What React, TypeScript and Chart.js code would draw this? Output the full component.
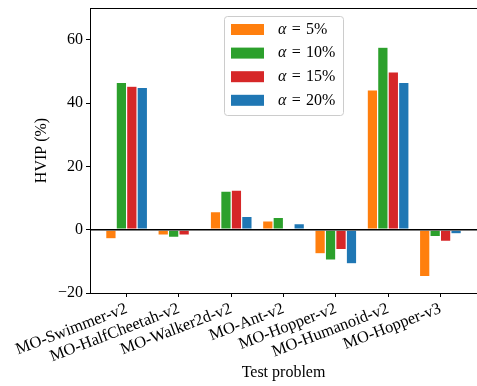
import { useEffect, useRef } from 'react';
import { Chart, registerables } from 'chart.js';

Chart.register(...registerables);

const categories = [
  'MO-Swimmer-v2',
  'MO-HalfCheetah-v2',
  'MO-Walker2d-v2',
  'MO-Ant-v2',
  'MO-Hopper-v2',
  'MO-Humanoid-v2',
  'MO-Hopper-v3',
];
const seriesLabels = ['α = 5%', 'α = 10%', 'α = 15%', 'α = 20%'];
const alpha5 = [-2.9, -1.7, 5.7, 2.8, -7.6, 44.1, -14.8];
const alpha10 = [46.5, -2.4, 12.2, 3.9, -9.6, 57.6, -2.2];
const alpha15 = [45.3, -1.7, 12.5, 0.5, -6.3, 49.8, -3.7];
const alpha20 = [44.9, -0.4, 4.2, 1.9, -10.8, 46.5, -1.3];
const seriesValues = [alpha5, alpha10, alpha15, alpha20];
const colors = ['#ff7f0e', '#2ca02c', '#d62728', '#1f77b4'];
const yTicks = [-20, 0, 20, 40, 60];
const yMin = -20;
const yMax = 70;
const xMin = -0.7;
const xMax = 6.7;

const FONT = 'Liberation Serif';

const framePlugin = {
  id: 'frameAndLegend',
  afterDatasetsDraw(chart: any) {
    const { ctx, chartArea: ca, scales } = chart;
    ctx.save();
    const y0 = scales.y.getPixelForValue(0);
    ctx.strokeStyle = '#000';
    ctx.lineWidth = 1.5;
    ctx.beginPath();
    ctx.moveTo(ca.left, y0);
    ctx.lineTo(ca.right, y0);
    ctx.stroke();
    ctx.lineWidth = 1;
    ctx.beginPath();
    ctx.moveTo(ca.left, ca.top + 0.5);
    ctx.lineTo(ca.right, ca.top + 0.5);
    ctx.stroke();
    ctx.restore();
  },
  afterDraw(chart: any) {
    const { ctx, chartArea: ca } = chart;
    const w = 119;
    const h = 99;
    const bx = (ca.left + ca.right) / 2 - w / 2;
    const by = ca.top + 8;
    ctx.save();
    ctx.beginPath();
    ctx.roundRect(bx + 0.5, by + 0.5, w, h, 3);
    ctx.fillStyle = 'rgba(255,255,255,0.8)';
    ctx.fill();
    ctx.strokeStyle = '#cccccc';
    ctx.lineWidth = 1;
    ctx.stroke();
    chart.data.datasets.forEach((ds: any, i: number) => {
      const cy = by + 13.5 + i * 23.6;
      ctx.fillStyle = ds.backgroundColor;
      ctx.fillRect(bx + 7, cy - 5.5, 33, 11);
      const label: string = ds.label;
      const first = label.slice(0, 1);
      const rest = label.slice(1);
      ctx.fillStyle = '#000';
      ctx.textBaseline = 'middle';
      ctx.textAlign = 'left';
      ctx.font = `italic 16px "${FONT}"`;
      let tx = bx + 54;
      ctx.fillText(first, tx, cy);
      tx += ctx.measureText(first).width;
      ctx.font = `16px "${FONT}"`;
      ctx.fillText(rest.replace(/ /g, '\u2004'), tx, cy);
    });
    ctx.restore();
  },
};

export default function App() {
  const ref = useRef<HTMLCanvasElement | null>(null);
  useEffect(() => {
    if (!ref.current) return;
    Chart.defaults.font.family = FONT;
    Chart.defaults.font.size = 16;
    Chart.defaults.color = '#000';
    const chart = new Chart(ref.current, {
      type: 'bar',
      data: {
        datasets: seriesValues.map((vals, i) => ({
          label: seriesLabels[i],
          data: vals.map((v, j) => ({ x: j, y: v })),
          backgroundColor: colors[i],
          borderColor: '#ffffff',
          borderWidth: 0.6,
          borderSkipped: false,
          categoryPercentage: 0.8,
          barPercentage: 1.0,
        })),
      },
      options: {
        animation: false,
        responsive: true,
        maintainAspectRatio: false,
        layout: { padding: { left: 32, top: 8, right: 0, bottom: 0 } },
        plugins: { legend: { display: false }, tooltip: { enabled: false } },
        scales: {
          x: {
            type: 'linear',
            min: xMin,
            max: xMax,
            offset: false,
            afterBuildTicks: (axis: any) => {
              axis.ticks = categories.map((_, i) => ({ value: i }));
            },
            afterFit: (axis: any) => {
              axis.height = 93;
              axis.paddingLeft = 0;
              axis.paddingRight = 0;
            },
            ticks: {
              autoSkip: false,
              minRotation: 21,
              maxRotation: 21,
              padding: 2,
              font: { size: 16.5 },
              callback: (v: any) => categories[Math.round(Number(v))] ?? '',
            },
            grid: {
              offset: false,
              drawOnChartArea: false,
              drawTicks: true,
              tickLength: 4,
              color: '#000',
            },
            border: { display: true, color: '#000', width: 1 },
            title: { display: true, text: 'Test problem', font: { size: 16 }, padding: { top: 0, bottom: 4 } },
          },
          y: {
            min: yMin,
            max: yMax,
            afterBuildTicks: (axis: any) => {
              axis.ticks = yTicks.map((v) => ({ value: v }));
            },
            afterFit: (axis: any) => {
              axis.width = 90 - 32;
              axis.paddingTop = 0;
              axis.paddingBottom = 0;
            },
            ticks: {
              padding: 3,
              font: { size: 16 },
              callback: (v: any) => (Number(v) < 0 ? '\u2212' + Math.abs(Number(v)) : String(v)),
            },
            grid: {
              drawOnChartArea: false,
              drawTicks: true,
              tickLength: 4,
              color: '#000',
            },
            border: { display: true, color: '#000', width: 1 },
            title: { display: true, text: 'HVIP (%)', font: { size: 16 }, padding: { top: 0, bottom: 0 } },
          },
        },
      },
      plugins: [framePlugin],
    });
    return () => chart.destroy();
  }, []);
  return (
    <div style={{ position: 'fixed', left: 0, top: 0, width: 477, height: 386, background: '#fff' }}>
      <canvas ref={ref} />
    </div>
  );
}
